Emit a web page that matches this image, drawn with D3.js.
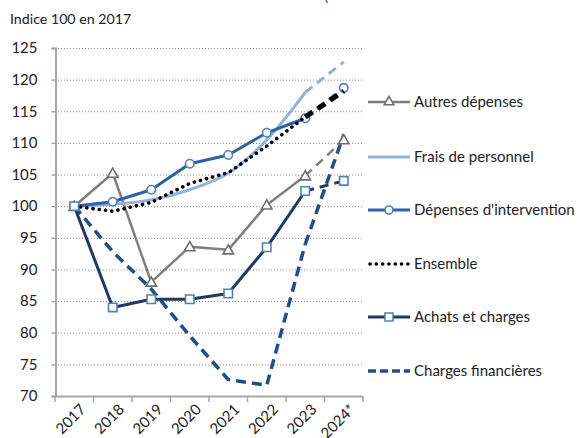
<!DOCTYPE html>
<html>
<head>
<meta charset="utf-8">
<script src="https://cdn.jsdelivr.net/npm/d3@7.9.0/dist/d3.min.js"></script>
<style>
  body { margin: 0; background: #fff; }
  svg { display: block; font-family: Lato, "Open Sans", sans-serif; }
</style>
</head>
<body>
<div id="chart"></div>
<script>
// values (index 100 in 2017)
const years = ['2017', '2018', '2019', '2020', '2021', '2022', '2023', '2024*'];
const autres = [100, 105.2, 88.0, 93.6, 93.1, 100.2, 104.8, 110.5];
const frais = [100, 100.3, 101.0, 102.6, 105.2, 110.5, 118.0, 122.8];
const intervention = [100, 100.7, 102.6, 106.7, 108.1, 111.6, 113.9, 118.7];
const ensemble = [100, 99.2, 100.6, 103.6, 105.3, 109.5, 114.1, 118.2];
const achats = [100, 84.0, 85.3, 85.3, 86.2, 93.5, 102.4, 104.0];
const financieres = [100, 92.8, 86.9, 79.5, 72.6, 71.7, 94.0, 111.3];
const yTicks = [70, 75, 80, 85, 90, 95, 100, 105, 110, 115, 120, 125];

const width = 579, height = 438;
const plot = { left: 55, right: 363, top: 48, bottom: 396 };

const series = [
  { name: 'Autres dépenses', values: autres, color: '#7f7f7f', width: 2.5, marker: 'triangle', mstroke: '#6f6f6f', dash: null },
  { name: 'Frais de personnel', values: frais, color: '#8fb3de', width: 3, marker: null, smooth: true, dash: null },
  { name: "Dépenses d'intervention", values: intervention, color: '#2f62a3', width: 3, marker: 'circle', mstroke: '#4f81bd', dash: null },
  { name: 'Ensemble', values: ensemble, color: '#000', width: 3.2, marker: null, dotted: true },
  { name: 'Achats et charges', values: achats, color: '#1f3864', width: 3, marker: 'square', mstroke: '#4f81bd', dash: null },
  { name: 'Charges financières', values: financieres, color: '#1f4e8c', width: 3.5, marker: null, dash: '10,6' },
];

const svg = d3.select('#chart').append('svg').attr('width', width).attr('height', height);

const x = d3.scaleBand().domain(years).range([plot.left, plot.right]);
const y = d3.scaleLinear().domain([70, 125]).range([plot.bottom, plot.top]);
const cx = d => x(d) + x.bandwidth() / 2;

// clipped title fragment at the very top
svg.append('text').attr('x', 324).attr('y', 1).attr('fill', '#2f62d0')
  .style('font-size', '16px').text('(');

svg.append('text').attr('x', 10).attr('y', 24).attr('fill', '#222')
  .style('font-size', '14.2px').text('Indice 100 en 2017');

// gridlines
svg.append('g').selectAll('line').data(yTicks.filter(d => d > 70)).join('line')
  .attr('x1', plot.left).attr('x2', plot.right)
  .attr('y1', d => y(d) + 0.5).attr('y2', d => y(d) + 0.5)
  .attr('stroke', '#8c8c8c').attr('stroke-width', 1).attr('stroke-dasharray', '1,2');

// y axis
const yAxis = svg.append('g').attr('transform', `translate(${plot.left + 0.5},0)`)
  .call(d3.axisLeft(y).tickValues(yTicks).tickSize(4).tickPadding(14));
yAxis.select('.domain').attr('stroke', '#a6a6a6').attr('stroke-width', 2);
yAxis.selectAll('.tick line').attr('stroke', '#a6a6a6').attr('stroke-width', 1.5);
yAxis.selectAll('text').attr('fill', '#222').style('font-size', '15px').style('font-family', 'Lato, "Open Sans", sans-serif');

// x axis with ticks between categories
const xg = svg.append('g');
xg.append('line').attr('x1', plot.left).attr('x2', plot.right)
  .attr('y1', plot.bottom + 0.5).attr('y2', plot.bottom + 0.5)
  .attr('stroke', '#a6a6a6').attr('stroke-width', 2);
const edges = years.map(d => x(d)).concat([plot.right]);
xg.selectAll('line.tk').data(edges).join('line').attr('class', 'tk')
  .attr('x1', d => d).attr('x2', d => d)
  .attr('y1', plot.bottom).attr('y2', plot.bottom + 6)
  .attr('stroke', '#a6a6a6').attr('stroke-width', 1.5);
xg.selectAll('text').data(years).join('text')
  .attr('transform', d => `translate(${cx(d) + 5},${plot.bottom + 7}) rotate(-45)`)
  .attr('text-anchor', 'end').attr('dy', '0.7em')
  .attr('fill', '#222').style('font-size', '15px').text(d => d);

// lines
const lineGen = d3.line().x((d, i) => cx(years[i])).y(d => y(d));
const n = years.length;

function drawSeries(s) {
  const g = svg.append('g');
  const solid = s.values.slice(0, n - 1);
  const proj = s.values.map((v, i) => (i >= n - 2 ? v : null));
  const gen = s.smooth ? lineGen.curve(d3.curveCatmullRom.alpha(0.5)) : lineGen.curve(d3.curveLinear);
  const p1 = g.append('path').attr('d', gen(solid))
    .attr('fill', 'none').attr('stroke', s.color).attr('stroke-width', s.width)
    .attr('stroke-linejoin', 'round');
  if (s.dotted) p1.attr('stroke-dasharray', '0.1,6.2').attr('stroke-linecap', 'round').attr('stroke-width', 3.6);
  else if (s.dash) p1.attr('stroke-dasharray', s.dash);
  lineGen.curve(d3.curveLinear);
  const projGen = d3.line().defined(d => d != null).x((d, i) => cx(years[i])).y(d => y(d));
  g.append('path').attr('d', projGen(proj))
    .attr('fill', 'none').attr('stroke', s.color)
    .attr('stroke-width', s.dotted ? 5 : s.width)
    .attr('stroke-dasharray', s.dash ? s.dash : '9,6');

  if (s.marker) {
    const sym = { triangle: d3.symbolTriangle, circle: d3.symbolCircle, square: d3.symbolSquare }[s.marker];
    const size = { triangle: 48, circle: 56, square: 72 }[s.marker];
    g.selectAll('path.m').data(s.values).join('path').attr('class', 'm')
      .attr('d', d3.symbol(sym, size))
      .attr('transform', (d, i) => `translate(${cx(years[i])},${y(d) + (s.marker === 'triangle' ? 1 : 0)})`)
      .attr('fill', '#fff').attr('stroke', s.mstroke).attr('stroke-width', 1.6);
  }
}

// draw order: back to front
[series[5], series[0], series[1], series[2], series[3], series[4]].forEach(drawSeries);

// legend
const legend = svg.append('g');
const legY = [102, 157, 210, 264, 317, 371];
series.forEach((s, i) => {
  const g = legend.append('g').attr('transform', `translate(0,${legY[i]})`);
  const l = g.append('line').attr('x1', 368).attr('x2', 410).attr('y1', 0).attr('y2', 0)
    .attr('stroke', s.color).attr('stroke-width', s.width);
  if (s.dotted) l.attr('stroke-dasharray', '0.1,6.2').attr('stroke-linecap', 'round').attr('stroke-width', 3.6).attr('x1', 370);
  else if (s.dash) l.attr('stroke-dasharray', '8,4').attr('x1', 368);
  if (s.marker) {
    const sym = { triangle: d3.symbolTriangle, circle: d3.symbolCircle, square: d3.symbolSquare }[s.marker];
    const size = { triangle: 40, circle: 50, square: 64 }[s.marker];
    g.append('path').attr('d', d3.symbol(sym, size)).attr('transform', 'translate(389,0)')
      .attr('fill', '#fff').attr('stroke', s.mstroke).attr('stroke-width', 1.6);
  }
  g.append('text').attr('x', 414).attr('y', 0).attr('dy', '0.35em')
    .attr('fill', '#222').style('font-size', '15px').text(s.name);
});
</script>
</body>
</html>
